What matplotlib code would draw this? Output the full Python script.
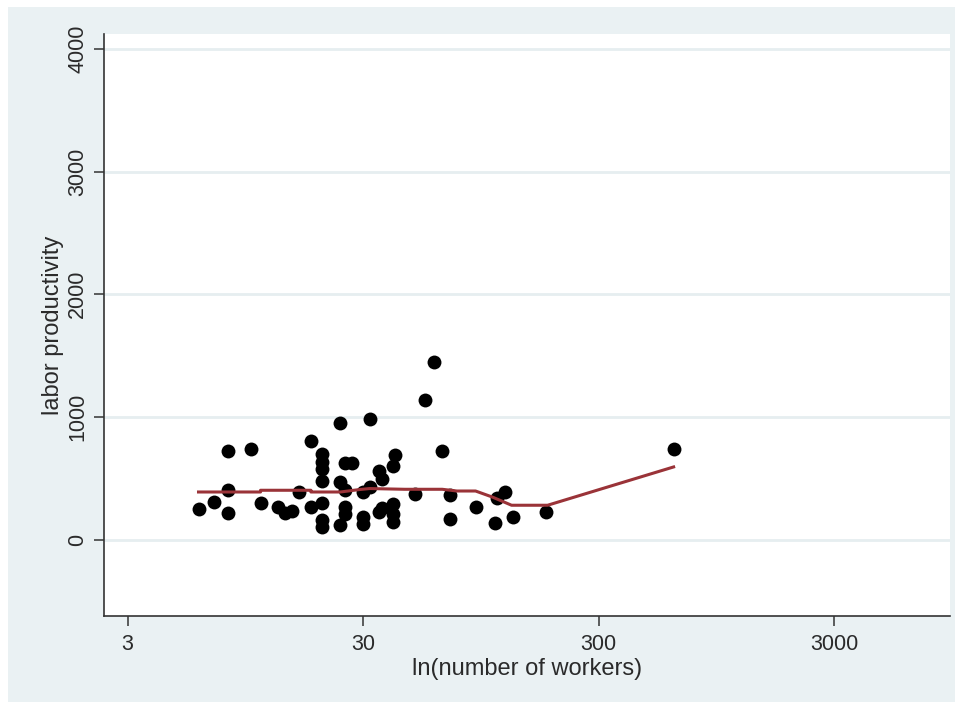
import matplotlib
matplotlib.use('Agg')
import matplotlib.pyplot as plt
from matplotlib.ticker import FixedLocator, NullLocator

# scatter points: number of workers vs labor productivity
workers = [6, 7, 8, 8, 8, 10, 11, 13, 14, 15, 16, 18, 18,
           20, 20, 20, 20, 20, 20, 20, 24, 25, 27, 24, 25, 25, 25, 24,
           30, 30, 30, 32, 32, 35, 36, 35, 36, 40, 41, 40, 40, 40,
           50, 55, 60, 65, 70, 70, 90, 109, 111, 120, 130, 179, 624]
productivity = [253, 310, 721, 404, 219, 743, 300, 265, 219, 233, 390, 803, 270,
                703, 634, 581, 477, 300, 160, 107, 952, 624, 624, 471, 404, 268, 208, 119,
                390, 186, 133, 986, 431, 563, 493, 227, 261, 603, 693, 296, 214, 146,
                377, 1142, 1449, 721, 363, 173, 268, 138, 341, 390, 184, 229, 743]

# smoothed fit line
fit_x = [6, 11, 11, 18, 18, 24, 29, 32, 45, 65, 75, 90, 106, 128, 182, 624]
fit_y = [390, 390, 404, 404, 390, 390, 410, 418, 412, 412, 398, 398, 349, 282, 282, 594]

xticks = [3, 30, 300, 3000]
yticks = [0, 1000, 2000, 3000, 4000]

W, H = 963, 706
fig = plt.figure(figsize=(W / 100, H / 100), dpi=100, facecolor='white')
bg = '#eaf1f3'

# outer graph region
back = fig.add_axes([8 / W, 1 - 702 / H, (955 - 8) / W, (702 - 7) / H], zorder=-1)
back.set_facecolor(bg)
back.set_xticks([])
back.set_yticks([])
for s in back.spines.values():
    s.set_visible(False)

ax = fig.add_axes([103.5 / W, 1 - 616 / H, (950 - 103.5) / W, (616 - 34) / H])
ax.set_facecolor('white')

ax.scatter(workers, productivity, s=100, c='black', marker='o', linewidths=0, zorder=3)
ax.plot(fit_x, fit_y, color='#9a3338', lw=2.2, zorder=4)

ax.set_xscale('log')
ax.set_xlim(2.37, 9300)
ax.set_ylim(-620, 4120)

ax.xaxis.set_major_locator(FixedLocator(xticks))
ax.xaxis.set_minor_locator(NullLocator())
ax.set_xticklabels([str(t) for t in xticks])
ax.set_yticks(yticks)
ax.set_yticklabels([str(t) for t in yticks], rotation=90, va='center')

ax.grid(axis='y', color='#e6eef0', lw=2, zorder=0)
ax.set_axisbelow(True)

for s in ['top', 'right']:
    ax.spines[s].set_visible(False)
for s in ['left', 'bottom']:
    ax.spines[s].set_color('#333333')
    ax.spines[s].set_linewidth(1.2)

txt = '#2a2a2a'
font = 'Liberation Sans'
ax.tick_params(axis='both', direction='out', length=7, width=1.1, color='#333333',
               labelsize=15.5, labelcolor=txt)
ax.tick_params(axis='y', pad=4)
ax.tick_params(axis='x', pad=6)
for lab in ax.get_xticklabels() + ax.get_yticklabels():
    lab.set_fontfamily(font)

ax.set_xlabel('ln(number of workers)', fontsize=17, color=txt, fontfamily=font, labelpad=2)
ax.set_ylabel('labor productivity', fontsize=17, color=txt, fontfamily=font, labelpad=2)

fig.savefig('out.png', dpi=100, facecolor='white')
